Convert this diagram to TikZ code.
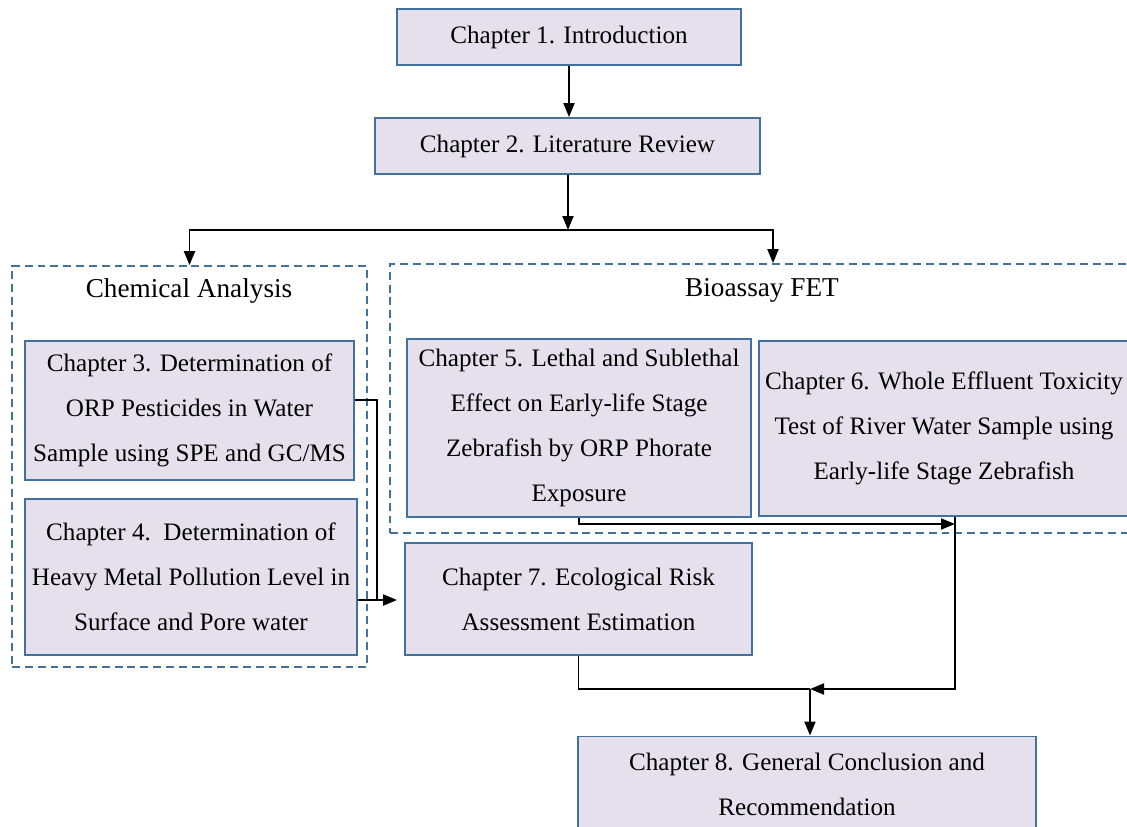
\documentclass[tikz,border=0pt]{standalone}
\usepackage{fontspec}
\setmainfont{Liberation Serif}
\usetikzlibrary{arrows.meta}
\definecolor{boxfill}{RGB}{230,224,236}
\definecolor{boxline}{RGB}{65,113,156}

\begin{document}
\begin{tikzpicture}[x=0.02cm, y=-0.02cm, >={Triangle[length=0.28cm,width=0.22cm]}, line width=1.1pt]
	\tikzset{chap/.style={draw=boxline, fill=boxfill, rectangle, align=center, inner sep=0pt, font=\fontsize{14.3}{25.6}\selectfont},
		group/.style={draw=boxline, dash pattern=on 4.5pt off 2.8pt, line width=1pt, rectangle, inner sep=0pt},
		glabel/.style={font=\fontsize{15.5}{18}\selectfont}
	}
	\useasboundingbox (0,0) rectangle (1127,826);

	% groups
	\node [group, minimum width=7.1cm, minimum height=8.02cm] (chem) at (189.5,466.5) {};
	\node [glabel] (chemlbl) at (189,291) {Chemical Analysis};
	\node [group, minimum width=15.32cm, minimum height=5.38cm] (bio) at (773,398.5) {};
	\node [glabel] (biolbl) at (762,290) {Bioassay FET};

	% chapters
	\node [chap, minimum width=6.88cm, minimum height=1.12cm] (ch1) at (569,37) {Chapter 1. Introduction};
	\node [chap, minimum width=7.7cm, minimum height=1.12cm] (ch2) at (567.5,146) {Chapter 2. Literature Review};
	\node [chap, minimum width=6.58cm, minimum height=2.78cm] (ch3) at (189.5,410.5) {Chapter 3. Determination of\\ORP Pesticides in Water\\Sample using SPE and GC/MS};
	\node [chap, minimum width=6.64cm, minimum height=3.12cm] (ch4) at (191,577) {Chapter 4.\ \ Determination of\\Heavy Metal Pollution Level in\\Surface and Pore water};
	\node [chap, minimum width=6.88cm, minimum height=3.56cm] (ch5) at (579,428) {Chapter 5. Lethal and Sublethal\\Effect on Early-life Stage\\Zebrafish by ORP Phorate\\Exposure};
	\node [chap, minimum width=7.4cm, minimum height=3.5cm] (ch6) at (944,428.5) {Chapter 6. Whole Effluent Toxicity\\Test of River Water Sample using\\Early-life Stage Zebrafish};
	\node [chap, minimum width=6.94cm, minimum height=2.24cm] (ch7) at (578.5,599) {Chapter 7. Ecological Risk\\Assessment Estimation};
	\node [chap, minimum width=9.16cm, minimum height=1.9cm] (ch8) at (807,784) {Chapter 8. General Conclusion and\\Recommendation};

	\coordinate (split) at (568,230);
	\coordinate (bend) at (377,600);
	\coordinate (c56) at (955,524);
	\coordinate (merge) at (810,689);

	\draw[->] (ch1.south) -- (ch1.south |- ch2.north);
	\draw[->] (ch2.south -| split) -- (split);
	\draw[->] (split) -| (chem.north);
	\draw[->] (split) -| (bio.north);
	\draw[->, shorten >=0.14cm] ([yshift=0.21cm]ch3.east) -| (bend) -- (bend -| ch7.west);
	\draw (ch4.east |- bend) -- (bend);
	\draw[->] (ch5.south) |- (c56);
	\draw[->] (ch6.south -| c56) |- (merge);
	\draw (ch7.south) |- (merge);
	\draw[->] (merge) -- (ch8.north -| merge);

\end{tikzpicture}
\end{document}
